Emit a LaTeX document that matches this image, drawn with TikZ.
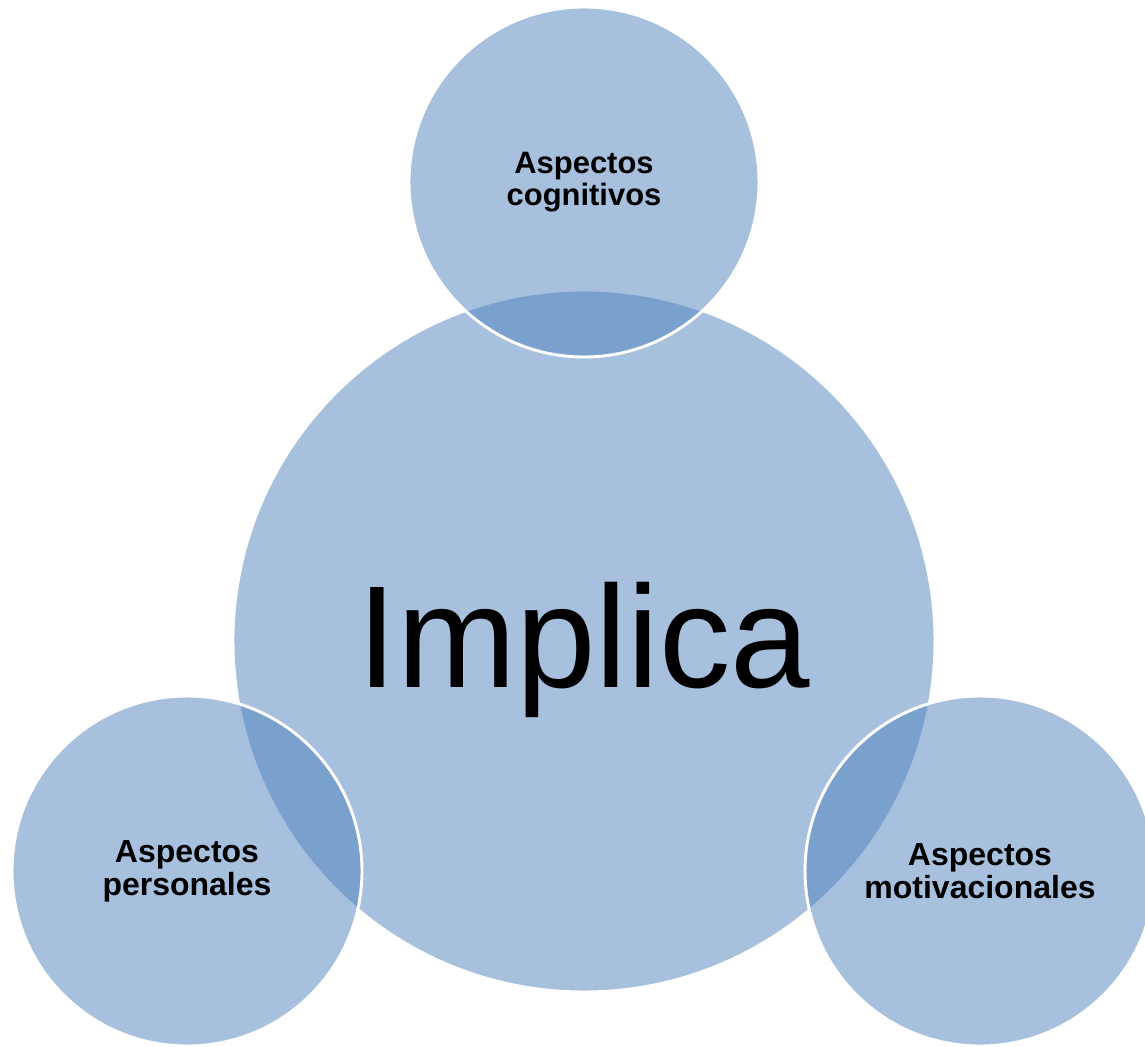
\documentclass[tikz,border=0pt]{standalone}
\usepackage{fontspec}
\setmainfont{Liberation Sans}
\definecolor{azul}{HTML}{4F81BD}
\tikzset{
  burbuja/.style={circle, fill=azul, fill opacity=0.5, text opacity=1,
    draw=white, line width=2.2pt, inner sep=0pt, align=center,
    font=\bfseries\fontsize{24}{24.5}\selectfont}
}
\begin{document}
\begin{tikzpicture}[x=0.75pt,y=-0.75pt]
  \useasboundingbox (0,0) rectangle (1145,1046);

  % Circulo central
  \node[burbuja, minimum size=526.5pt] (centro) at (584,641) {};
  \node[anchor=base, font=\fontsize{109}{109}\selectfont] (implica) at (584,687) {\scalebox{0.983}[1]{Implica}};

  % Circulos de los aspectos
  \node[burbuja, minimum size=262.5pt, font=\bfseries\fontsize{23.2}{23.5}\selectfont] (cognitivos) at (584,182) {Aspectos\\cognitivos};
  \node[burbuja, minimum size=262.5pt] (personales) at (187,871) {Aspectos\\personales};
  \node[burbuja, minimum size=262.5pt] (motivacionales) at (980,871) {Aspectos\\motivacionales};

\end{tikzpicture}
\end{document}
